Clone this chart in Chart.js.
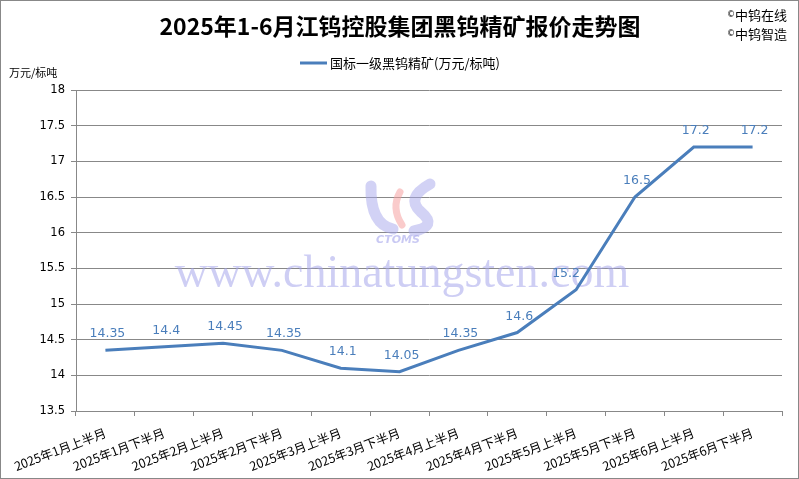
<!DOCTYPE html>
<html>
<head>
<meta charset="utf-8">
<script src="https://cdn.jsdelivr.net/npm/chart.js@4.4.0/dist/chart.umd.min.js"></script>
<style>
  html, body { margin: 0; padding: 0; background: #fff; }
  #wrap { width: 799px; height: 479px; }
</style>
</head>
<body>
<div id="wrap"><canvas id="myChart" width="799" height="479"></canvas></div>
<script>
// data
var categories = [
  "2025年1月上半月", "2025年1月下半月", "2025年2月上半月", "2025年2月下半月",
  "2025年3月上半月", "2025年3月下半月", "2025年4月上半月", "2025年4月下半月",
  "2025年5月上半月", "2025年5月下半月", "2025年6月上半月", "2025年6月下半月"
];
var prices = [14.35, 14.4, 14.45, 14.35, 14.1, 14.05, 14.35, 14.6, 15.2, 16.5, 17.2, 17.2];
var seriesName = "国标一级黑钨精矿(万元/标吨)";
var titleText = "2025年1-6月江钨控股集团黑钨精矿报价走势图";
var unitText = "万元/标吨";
var copyLines = ["中钨在线", "中钨智造"];

var blue = "rgb(74,126,187)";
var cjk = "'Noto Sans CJK SC', sans-serif";

// watermark, title, legend, frame
var decor = {
  id: "decor",
  beforeDatasetsDraw: function (chart) {
    var ctx = chart.ctx;
    ctx.save();
    // logo (rough)
    ctx.lineCap = "round";
    ctx.strokeStyle = "rgba(165,165,235,0.5)";
    ctx.lineWidth = 11;
    ctx.beginPath();
    ctx.moveTo(371, 186);
    ctx.quadraticCurveTo(370, 224, 393, 229);
    ctx.stroke();
    ctx.beginPath();
    ctx.moveTo(430, 184);
    ctx.quadraticCurveTo(405, 198, 421, 212);
    ctx.quadraticCurveTo(438, 226, 414, 231);
    ctx.stroke();
    ctx.strokeStyle = "rgba(245,160,160,0.55)";
    ctx.lineWidth = 7;
    ctx.beginPath();
    ctx.moveTo(400, 192);
    ctx.quadraticCurveTo(391, 208, 402, 225);
    ctx.stroke();
    ctx.fillStyle = "rgba(165,165,235,0.6)";
    ctx.font = "italic bold 11px 'DejaVu Sans', sans-serif";
    ctx.textAlign = "center";
    ctx.fillText("CTOMS", 398, 243);
    // text watermark
    ctx.fillStyle = "rgba(165,165,235,0.55)";
    ctx.font = "46px 'Liberation Serif', serif";
    ctx.textBaseline = "alphabetic";
    ctx.fillText("www.chinatungsten.com", 402, 287);
    ctx.restore();
  },
  afterDraw: function (chart) {
    var ctx = chart.ctx;
    ctx.save();
    ctx.fillStyle = "#000";
    ctx.textBaseline = "middle";
    ctx.textAlign = "center";
    ctx.font = "bold 23px " + cjk;
    ctx.fillText(titleText, 400, 26);

    ctx.textAlign = "left";
    ctx.font = "8px 'DejaVu Sans', sans-serif";
    ctx.fillText("©", 727, 15);
    ctx.fillText("©", 727, 34);
    ctx.font = "13px " + cjk;
    ctx.fillText(copyLines[0], 735, 15);
    ctx.fillText(copyLines[1], 735, 34);

    ctx.font = "11px " + cjk;
    ctx.fillText(unitText, 9, 73);

    // legend
    ctx.strokeStyle = blue;
    ctx.lineWidth = 3;
    ctx.beginPath();
    ctx.moveTo(300, 63);
    ctx.lineTo(327, 63);
    ctx.stroke();
    ctx.font = "13px " + cjk;
    ctx.fillText(seriesName, 330, 63);

    ctx.strokeStyle = "#888";
    ctx.lineWidth = 1;
    ctx.strokeRect(0.5, 0.5, 798, 478);
    ctx.restore();
  }
};

// data labels above points
var valueLabels = {
  id: "valueLabels",
  afterDatasetsDraw: function (chart) {
    var ctx = chart.ctx;
    var meta = chart.getDatasetMeta(0);
    ctx.save();
    ctx.fillStyle = blue;
    ctx.font = "12.5px 'DejaVu Sans', sans-serif";
    ctx.textAlign = "center";
    ctx.textBaseline = "alphabetic";
    meta.data.forEach(function (pt, i) {
      var dx = 2;
      // steep climb: nudge label off the line
      if (i + 1 < prices.length && prices[i + 1] - prices[i] > 1) dx = -10;
      ctx.fillText(String(prices[i]), pt.x + dx, pt.y - 13);
    });
    ctx.restore();
  }
};

var ctx = document.getElementById("myChart").getContext("2d");
var chart = new Chart(ctx, {
  type: "line",
  data: {
    labels: categories,
    datasets: [
      {
        label: seriesName,
        data: prices,
        borderColor: blue,
        borderWidth: 3,
        pointRadius: 0,
        fill: false,
        tension: 0,
      },
    ],
  },
  options: {
    responsive: false,
    animation: false,
    layout: { padding: { left: 0, right: 17, top: 90, bottom: 0 } },
    plugins: {
      legend: { display: false },
      title: { display: false },
      tooltip: { enabled: false },
    },
    scales: {
      x: {
        offset: true,
        grid: {
          offset: true,
          drawOnChartArea: false,
          drawTicks: true,
          tickLength: 5,
          color: "#888",
        },
        border: { color: "#888" },
        ticks: {
          color: "#000",
          font: { family: cjk, size: 12.5 },
          minRotation: 21,
          maxRotation: 21,
          autoSkip: false,
          padding: 9,
        },
        afterFit: function (s) { s.height = 68; },
      },
      y: {
        min: 13.5,
        max: 18,
        ticks: {
          stepSize: 0.5,
          color: "#000",
          font: { family: "'DejaVu Sans', sans-serif", size: 11.5 },
          padding: 6,
          callback: function (v) { return String(v); },
        },
        grid: { color: "#888", tickLength: 5 },
        border: { color: "#888" },
        afterFit: function (s) { s.width = 76; },
      },
    },
  },
  plugins: [decor, valueLabels],
});
</script>
</body>
</html>
